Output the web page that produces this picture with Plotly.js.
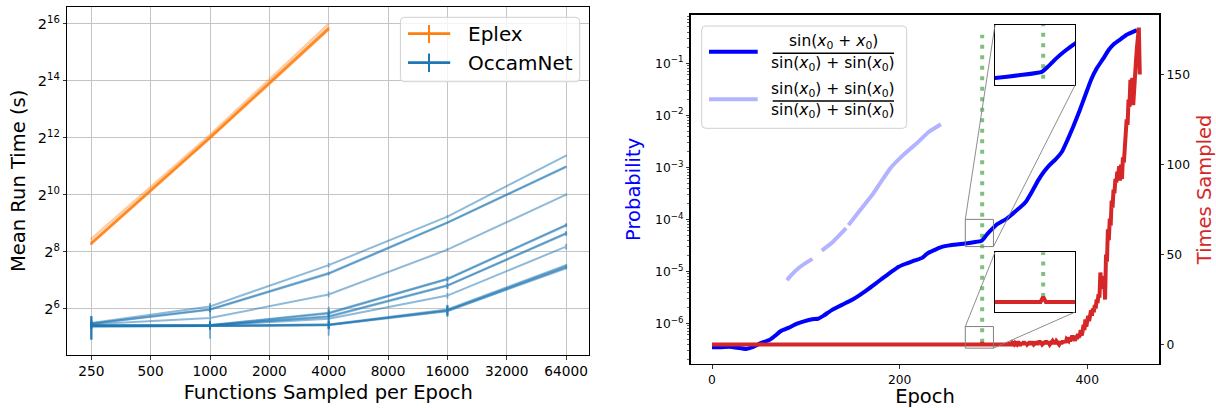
<!DOCTYPE html>
<html><head><meta charset="utf-8">
<script src="https://cdn.plot.ly/plotly-3.0.1.min.js"></script>
<style>html,body{margin:0;padding:0;background:#fff}#chart{width:1216px;height:408px}</style>
</head><body><div id="chart"></div>
<script>
// ================= LEFT PANEL DATA =================
const sampledPerEpoch = [250, 1000, 4000, 16000, 64000];
const sampledTicks = [250, 500, 1000, 2000, 4000, 8000, 16000, 32000, 64000];
const sampledTickText = ['250', '500', '1000', '2000', '4000', '8000', '16000', '32000', '64000'];
const runTimeTicks = [64, 256, 1024, 4096, 16384, 65536];
const runTimeTickText = ['2<sup>6</sup>', '2<sup>8</sup>', '2<sup>10</sup>', '2<sup>12</sup>', '2<sup>14</sup>', '2<sup>16</sup>'];

// Eplex runs (mean run time, seconds)
const eplexSampled = [250, 1000, 4000];
const eplexRun1 = [308.7, 4039.6, 57052];
const eplexRun2 = [319.6, 4153.5, 59475];
const eplexRun3 = [349.7, 4390, 65536];
const eplexErr = [8, 40, 600];

// OccamNet runs (mean run time, seconds)
const occamRun1 = [45.3, 67.6, 184.8, 600.5, 2646.9];
const occamRun2 = [44.6, 63.1, 152.2, 522.8, 2033.9];
const occamRun3 = [44.0, 62.3, 149.1, 515.5, 2005.8];
const occamRun4 = [43.7, 50.9, 90.5, 268.7, 1024];
const occamRun5 = [42.8, 43.1, 58.1, 132.5, 491.2];
const occamRun6 = [42.5, 42.8, 56.9, 130.7, 484.4];
const occamRun7 = [42.5, 42.8, 53.4, 113.0, 401.7];
const occamRun8 = [42.2, 42.5, 52.3, 111.4, 396.2];
const occamRun9 = [42.2, 42.5, 50.2, 88.0, 290.0];
const occamRun10 = [41.9, 42.2, 43.7, 62.7, 184.8];
const occamRun11 = [41.6, 41.9, 43.1, 61.8, 179.8];
const occamRun12 = [42.2, 42.2, 43.4, 61.0, 174.8];
const occamRun13 = [41.4, 41.9, 42.8, 60.1, 171.3];
const occamErrTop = [4, 6, 10, 20, 50];
const occamErrWide1000 = [3, 20, 6, 10, 30];
const occamErrWide4000 = [3, 4, 17, 6, 20];
const occamErrMid = [3, 4, 5, 8, 20];
const occamErrBundle = [11.5, 3, 4, 7.7, 5];

// ================= RIGHT PANEL DATA =================
const epochs = [0, 6, 19, 27, 36, 44, 52, 61, 67, 73, 82, 90, 98, 107, 113, 119, 128, 140, 149, 157, 165, 174, 182, 191, 199, 207, 216, 224, 230, 237, 245, 253, 262, 270, 279, 287.5, 290, 293, 296, 300, 304, 308, 314, 320, 329, 335, 341, 348, 354, 360, 366, 373, 379, 385, 392, 398, 404, 410, 417, 423, 429, 436, 442, 448, 453];
const probTarget = [3.467e-7, 3.467e-7, 3.548e-7, 3.388e-7, 3.236e-7, 3.548e-7, 4.169e-7, 4.786e-7, 5.754e-7, 7.079e-7, 8.318e-7, 9.772e-7, 1.096e-6, 1.202e-6, 1.230e-6, 1.413e-6, 1.820e-6, 2.344e-6, 2.818e-6, 3.467e-6, 4.365e-6, 5.754e-6, 7.413e-6, 9.772e-6, 1.230e-5, 1.413e-5, 1.622e-5, 1.820e-5, 2.239e-5, 2.570e-5, 2.951e-5, 3.162e-5, 3.311e-5, 3.428e-5, 3.631e-5, 3.890e-5, 4.365e-5, 5.129e-5, 5.888e-5, 6.918e-5, 8.128e-5, 8.913e-5, 1.023e-4, 1.259e-4, 1.738e-4, 2.239e-4, 3.388e-4, 5.754e-4, 8.318e-4, 1.122e-3, 1.413e-3, 1.995e-3, 3.388e-3, 6.026e-3, 1.259e-2, 2.455e-2, 4.786e-2, 7.943e-2, 0.1230, 0.1820, 0.2399, 0.2951, 0.3548, 0.3981, 0.4365];

const epochsAlt = [80, 83, 94, 107, 112, 117, 129, 143, 144.2, 145.5, 158, 172, 179, 190, 204, 218, 231, 244];
const probAlt = [6.76e-6, 7.94e-6, 1.23e-5, 1.74e-5, null, 2.51e-5, 3.72e-5, 6.76e-5, null, 7.76e-5, 1.51e-4, 3.16e-4, 4.90e-4, 9.55e-4, 1.74e-3, 2.88e-3, 4.79e-3, 6.76e-3];

const epochsSampled = [0, 287, 288, 289,
  316, 317, 318, 319, 320, 321, 322, 323, 324, 325,
  326, 327, 328, 329, 330, 331, 332, 333, 334, 335,
  336, 337, 338, 339, 340, 341, 342, 343, 344, 345,
  346, 347, 348, 349, 350, 351, 352, 353, 354, 355,
  356, 357, 358, 359, 360, 361, 362, 363, 364, 365,
  366, 367, 368, 369, 370, 371, 372, 373, 374, 375,
  376, 377, 378, 379, 380, 381, 382, 383, 384, 385,
  386, 387, 388, 389, 390, 391, 392, 393, 394, 395,
  396, 397, 398, 399, 400, 401, 402, 403, 404, 405,
  406, 407, 408, 409, 410, 411, 412, 413, 414, 415,
  416, 417, 418, 419, 420, 421, 422, 423, 424, 425,
  426, 427, 428, 429, 430, 431, 432, 433, 434, 435,
  436, 437, 438, 439, 440, 441, 442, 443, 444, 445,
  446, 447, 448, 449, 450, 451, 452, 453, 454, 455,
  456];
const timesSampled = [0, 0, 1, 0,
  0, 1, 0, 0, 1, 0, 0, 1, 0, 0,
  1, 1, 0, 0, 1, 0, 1, 1, 0, 1,
  0, 1, 1, 1, 0, 1, 1, 0, 1, 1,
  1, 0, 1, 2, 1, 1, 0, 1, 1, 1,
  2, 1, 1, 1, 0, 1, 1, 2, 1, 1,
  1, 2, 1, 1, 0, 1, 1, 1, 2, 1,
  2, 1, 3, 2, 2, 4, 2, 3, 5, 3,
  4, 2, 5, 3, 6, 4, 5, 8, 5, 7,
  11, 8, 14, 10, 12, 16, 13, 15, 19, 16,
  20, 18, 22, 20, 25, 23, 28, 26, 40, 34,
  38, 31, 36, 25, 50, 46, 64, 58, 70, 66,
  80, 76, 86, 84, 92, 90, 96, 94, 99, 91,
  100, 92, 104, 101, 111, 116, 125, 122, 136, 132,
  147, 143, 148, 133, 144, 152, 158, 165, 174, 176,
  150];

const markedEpoch = 288;
const markTimesSpan = [1, 172];
const markProbSpan = [3.39e-5, 1];
const insetEpochs = [270, 300];
const insetProb = [3e-5, 1e-4];
const insetTimes = [-2, 10];

const probTicks = [1e-6, 1e-5, 1e-4, 1e-3, 1e-2, 1e-1];
const probTickText = ['10<sup>\u22126</sup>', '10<sup>\u22125</sup>', '10<sup>\u22124</sup>', '10<sup>\u22123</sup>', '10<sup>\u22122</sup>', '10<sup>\u22121</sup>'];
const timesTicks = [0, 50, 100, 150];

// ================= LAYOUT HELPERS =================
const W = 1216, H = 408;
const px = v => v / W;
const py = v => 1 - v / H;
const FONT = 'DejaVu Sans';
const BLUE = '#0000ff', LIGHTBLUE = '#b3b3ff', RED = '#d62728', GREEN = 'rgba(0,128,0,0.5)';
const C_ORANGE = '#ff7f0e', C_TAB = '#1f77b4';

const minorProb = [];
for (let d = -7; d <= -1; d++) for (let k = 2; k <= 9; k++) minorProb.push(k * Math.pow(10, d));

const traces = [];
[eplexRun1, eplexRun2, eplexRun3].forEach((run, i) => {
  traces.push({x: eplexSampled, y: run, xaxis: 'x', yaxis: 'y', mode: 'lines', opacity: i === 2 ? 0.4 : 0.8,
    line: {color: C_ORANGE, width: 2.2}, error_y: {type: 'data', array: eplexErr, thickness: 2, width: 0, color: C_ORANGE},
    showlegend: false, hoverinfo: 'skip'});
});
const occamRuns = [occamRun1, occamRun2, occamRun3, occamRun4, occamRun5, occamRun6, occamRun7, occamRun8, occamRun9, occamRun10, occamRun11, occamRun12, occamRun13];
const occamErrs = [occamErrTop, occamErrMid, occamErrMid, occamErrWide1000, occamErrMid, occamErrMid, occamErrMid, occamErrMid, occamErrWide4000, occamErrBundle, occamErrBundle, occamErrBundle, occamErrBundle];
occamRuns.forEach((run, i) => {
  traces.push({x: sampledPerEpoch, y: run, xaxis: 'x', yaxis: 'y', mode: 'lines', opacity: 0.5,
    line: {color: C_TAB, width: 2}, error_y: {type: 'data', array: occamErrs[i], thickness: 2, width: 0, color: C_TAB},
    showlegend: false, hoverinfo: 'skip'});
});

const smoothLine = (color) => ({color: color, width: 4, shape: 'spline', smoothing: 0.5});
// right main
traces.push({x: epochs, y: probTarget, xaxis: 'x2', yaxis: 'y2', mode: 'lines', line: smoothLine(BLUE), showlegend: false, hoverinfo: 'skip'});
traces.push({x: epochsAlt, y: probAlt, xaxis: 'x2', yaxis: 'y2', mode: 'lines', connectgaps: false, line: smoothLine(LIGHTBLUE), showlegend: false, hoverinfo: 'skip'});
traces.push({x: [markedEpoch, markedEpoch], y: markTimesSpan, xaxis: 'x2', yaxis: 'y3', mode: 'lines', line: {color: GREEN, width: 4, dash: '4px,6.5px'}, showlegend: false, hoverinfo: 'skip'});
traces.push({x: epochsSampled, y: timesSampled, xaxis: 'x2', yaxis: 'y3', mode: 'lines', line: {color: RED, width: 4}, showlegend: false, hoverinfo: 'skip'});
// upper inset
traces.push({x: epochs, y: probTarget, xaxis: 'x3', yaxis: 'y4', mode: 'lines', line: smoothLine(BLUE), showlegend: false, hoverinfo: 'skip'});
traces.push({x: [markedEpoch, markedEpoch], y: markProbSpan, xaxis: 'x3', yaxis: 'y4', mode: 'lines', line: {color: GREEN, width: 4, dash: '4px,6.5px'}, showlegend: false, hoverinfo: 'skip'});
// lower inset
traces.push({x: [markedEpoch, markedEpoch], y: markTimesSpan, xaxis: 'x4', yaxis: 'y5', mode: 'lines', line: {color: GREEN, width: 4, dash: '4px,6.5px'}, showlegend: false, hoverinfo: 'skip'});
traces.push({x: epochsSampled, y: timesSampled, xaxis: 'x4', yaxis: 'y5', mode: 'lines', line: {color: RED, width: 4}, showlegend: false, hoverinfo: 'skip'});

const tickCommon = {ticks: 'outside', ticklen: 3.5, tickwidth: 0.8, tickcolor: '#000', showline: true, linecolor: '#000', zeroline: false};
const insetAx = {showticklabels: false, ticks: '', showline: true, mirror: true, linecolor: '#000', linewidth: 1, showgrid: false, zeroline: false};

const xaxis = Object.assign({}, tickCommon, {type: 'log', domain: [px(67.3), px(589.3)], range: [2.2762, 4.9239], anchor: 'y',
  tickmode: 'array', tickvals: sampledTicks, ticktext: sampledTickText, tickfont: {size: 13.7},
  showgrid: true, gridcolor: '#c4c4c4', gridwidth: 1, mirror: true, linewidth: 1,
  title: {text: 'Functions Sampled per Epoch', font: {size: 19.5}, standoff: 7}});
const yaxis = Object.assign({}, tickCommon, {type: 'log', domain: [py(355), py(6.7)], range: [1.3170, 4.9959], anchor: 'x',
  tickmode: 'array', tickvals: runTimeTicks, ticktext: runTimeTickText, tickfont: {size: 14.5},
  showgrid: true, gridcolor: '#c4c4c4', gridwidth: 1, mirror: true, linewidth: 1,
  title: {text: 'Mean Run Time (s)', font: {size: 19.5}, standoff: 6}});
const xaxis2 = Object.assign({}, tickCommon, {domain: [px(690.7), px(1159.3)], range: [-22.7, 476.8], anchor: 'y2',
  tickmode: 'array', tickvals: [0, 200, 400], tickfont: {size: 12.3}, showgrid: false, mirror: true, linewidth: 1.3,
  title: {text: 'Epoch', font: {size: 19.5}, standoff: 5}});
const yaxis2 = Object.assign({}, tickCommon, {type: 'log', domain: [py(364), py(14.7)], range: [-6.78, -0.065], anchor: 'x2',
  tickmode: 'array', tickvals: probTicks, ticktext: probTickText, tickfont: {size: 12.3}, showgrid: false, linewidth: 1.3,
  minor: {tickmode: 'array', tickvals: minorProb, ticks: 'outside', ticklen: 2, tickwidth: 0.6, tickcolor: '#000', showgrid: false},
  title: {text: 'Probability', font: {size: 19.5, color: BLUE}, standoff: 9}});
const yaxis3 = Object.assign({}, tickCommon, {overlaying: 'y2', side: 'right', range: [-10.8, 183.2], anchor: 'x2',
  tickmode: 'array', tickvals: timesTicks, tickfont: {size: 12.3}, showgrid: false, linewidth: 1.3,
  title: {text: 'Times Sampled', font: {size: 19.5, color: RED}, standoff: 10}});
const xaxis3 = Object.assign({}, insetAx, {domain: [px(995), px(1075.3)], range: insetEpochs, anchor: 'y4'});
const yaxis4 = Object.assign({}, insetAx, {type: 'log', domain: [py(84.7), py(25)], range: insetProb.map(Math.log10), anchor: 'x3'});
const xaxis4 = Object.assign({}, insetAx, {domain: [px(995), px(1075.3)], range: insetEpochs, anchor: 'y5'});
const yaxis5 = Object.assign({}, insetAx, {domain: [py(312), py(252.3)], range: insetTimes, anchor: 'x4'});

// data->paper helpers (follow the axis definitions above)
function paperX(ax, v) { const t = ax.type === 'log' ? Math.log10(v) : v; return ax.domain[0] + (t - ax.range[0]) / (ax.range[1] - ax.range[0]) * (ax.domain[1] - ax.domain[0]); }
function paperY(ax, v, dom) { const t = ax.type === 'log' ? Math.log10(v) : v; const d = dom || ax.domain; return d[0] + (t - ax.range[0]) / (ax.range[1] - ax.range[0]) * (d[1] - d[0]); }

function roundRect(x0, y0, x1, y1, r) {
  const X = px, Y = py;
  return `M${X(x0 + r)},${Y(y0)} L${X(x1 - r)},${Y(y0)} Q${X(x1)},${Y(y0)} ${X(x1)},${Y(y0 + r)} L${X(x1)},${Y(y1 - r)} Q${X(x1)},${Y(y1)} ${X(x1 - r)},${Y(y1)} L${X(x0 + r)},${Y(y1)} Q${X(x0)},${Y(y1)} ${X(x0)},${Y(y1 - r)} L${X(x0)},${Y(y0 + r)} Q${X(x0)},${Y(y0)} ${X(x0 + r)},${Y(y0)} Z`;
}
const pline = (x0, y0, x1, y1, color, width) => ({type: 'line', xref: 'paper', yref: 'paper', x0: px(x0), y0: py(y0), x1: px(x1), y1: py(y1), line: {color: color, width: width}, layer: 'above'});

const GRAY = '#808080';
const y3dom = yaxis2.domain;
const shapes = [
  // inset marker rectangles
  {type: 'rect', xref: 'x2', yref: 'y2', x0: insetEpochs[0], x1: insetEpochs[1], y0: insetProb[0], y1: insetProb[1], line: {color: GRAY, width: 1}, layer: 'above'},
  {type: 'rect', xref: 'x2', yref: 'y3', x0: insetEpochs[0], x1: insetEpochs[1], y0: insetTimes[0], y1: insetTimes[1], line: {color: GRAY, width: 1}, layer: 'above'},
  // connectors
  {type: 'line', xref: 'paper', yref: 'paper', x0: paperX(xaxis2, insetEpochs[0]), y0: paperY(yaxis2, insetProb[1]), x1: xaxis3.domain[0], y1: yaxis4.domain[1], line: {color: GRAY, width: 0.9}, layer: 'above'},
  {type: 'line', xref: 'paper', yref: 'paper', x0: paperX(xaxis2, insetEpochs[1]), y0: paperY(yaxis2, insetProb[0]), x1: xaxis3.domain[1], y1: yaxis4.domain[0], line: {color: GRAY, width: 0.9}, layer: 'above'},
  {type: 'line', xref: 'paper', yref: 'paper', x0: paperX(xaxis2, insetEpochs[0]), y0: paperY(yaxis3, insetTimes[1], y3dom), x1: xaxis4.domain[0], y1: yaxis5.domain[1], line: {color: GRAY, width: 0.9}, layer: 'above'},
  {type: 'line', xref: 'paper', yref: 'paper', x0: paperX(xaxis2, insetEpochs[1]), y0: paperY(yaxis3, insetTimes[0], y3dom), x1: xaxis4.domain[1], y1: yaxis5.domain[0], line: {color: GRAY, width: 0.9}, layer: 'above'},
  // left legend
  {type: 'path', xref: 'paper', yref: 'paper', path: roundRect(400.4, 17.3, 579.7, 81.7, 4), fillcolor: 'rgba(255,255,255,0.8)', line: {color: '#d0d0d0', width: 1}, layer: 'above'},
  pline(408, 33.7, 450.2, 33.7, C_ORANGE, 2.8), pline(429, 25, 429, 43, C_ORANGE, 2),
  pline(408, 62.7, 450.2, 62.7, C_TAB, 2.8), pline(429, 53.5, 429, 72, C_TAB, 2),
  // right legend
  {type: 'path', xref: 'paper', yref: 'paper', path: roundRect(701.7, 26, 906.7, 128.3, 4), fillcolor: 'rgba(255,255,255,0.8)', line: {color: '#d0d0d0', width: 1}, layer: 'above'},
  pline(709, 51.7, 757.7, 51.7, BLUE, 4), pline(709, 99.3, 757.7, 99.3, LIGHTBLUE, 4),
  pline(772.7, 53.3, 894, 53.3, '#000', 1.5), pline(772.7, 101, 894, 101, '#000', 1.5)
];

const X0 = '<i>x</i><sub>0</sub>';
const fracFont = {size: 15.5, family: FONT, color: '#000'};
const ann = (x, y, text, anchor, font) => ({xref: 'paper', yref: 'paper', x: px(x), y: py(y), text: text, xanchor: anchor, yanchor: 'middle', showarrow: false, font: font});
const annotations = [
  ann(465.5, 33.7, 'Eplex', 'left', {size: 20, family: FONT, color: '#000'}),
  ann(465.5, 62.7, 'OccamNet', 'left', {size: 20, family: FONT, color: '#000'}),
  ann(833.4, 42.5, 'sin(' + X0 + ' + ' + X0 + ')', 'center', fracFont),
  ann(833.4, 64, 'sin(' + X0 + ') + sin(' + X0 + ')', 'center', fracFont),
  ann(833.4, 90.3, 'sin(' + X0 + ') + sin(' + X0 + ')', 'center', fracFont),
  ann(833.4, 111.5, 'sin(' + X0 + ') + sin(' + X0 + ')', 'center', fracFont)
];

const layout = {
  width: W, height: H, margin: {l: 0, r: 0, t: 0, b: 0, pad: 0},
  paper_bgcolor: '#fff', plot_bgcolor: '#fff', showlegend: false,
  font: {family: FONT, color: '#000'},
  xaxis, yaxis, xaxis2, yaxis2, yaxis3, xaxis3, yaxis4, xaxis4, yaxis5,
  shapes, annotations
};
Plotly.newPlot('chart', traces, layout, {staticPlot: true, displayModeBar: false});
</script></body></html>
